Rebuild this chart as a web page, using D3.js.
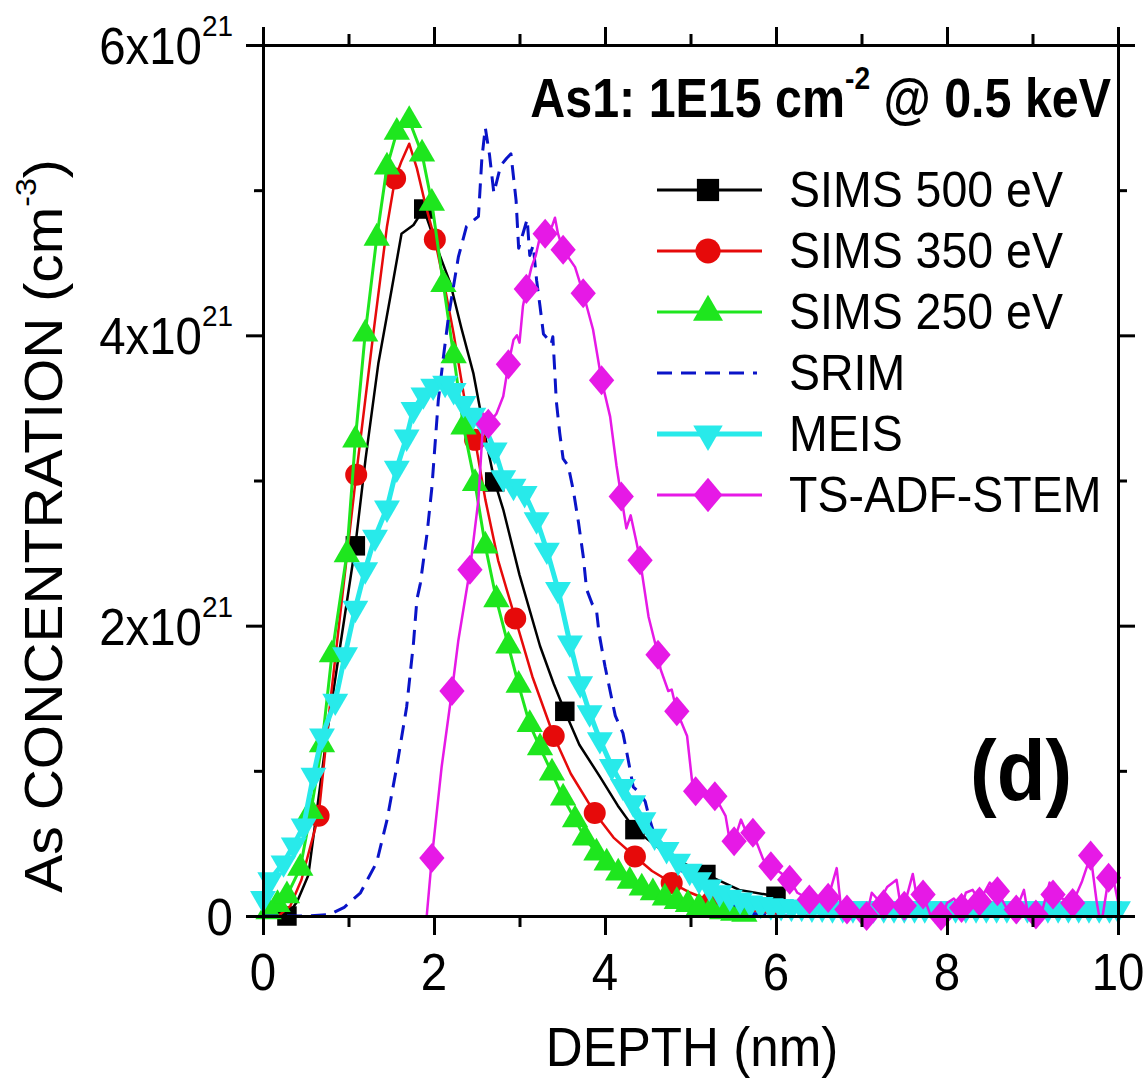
<!DOCTYPE html>
<html>
<head>
<meta charset="utf-8">
<script src="https://cdn.jsdelivr.net/npm/d3@7"></script>
<style>
  body { margin: 0; background: #fff; }
  text { font-family: "Liberation Sans", Arial, sans-serif; fill: #000; }
</style>
</head>
<body>
<div id="chart"></div>
<script>
// axis ticks
const xMajor = [0, 2, 4, 6, 8, 10];
const xMinor = [1, 3, 5, 7, 9];
const yMajor = [0, 2, 4, 6];          // units of 1e21 cm^-3
const yMinor = [1, 3, 5];
const yTickText = ["0", "2x10", "4x10", "6x10"];
const yTickExp = ["", "21", "21", "21"];

const legendNames = ["SIMS 500 eV", "SIMS 350 eV", "SIMS 250 eV", "SRIM", "MEIS", "TS-ADF-STEM"];

// SIMS 500 eV (depth nm, conc 1e21)
const sims500Line = [[0.22,0],[0.28,0],[0.4,0.1],[0.53,0.28],[0.75,1.26],[0.9,1.85],[1.08,2.55],[1.2,3.15],[1.35,3.81],
  [1.5,4.3],[1.62,4.7],[1.76,4.76],[1.88,4.87],[1.95,4.75],[2.03,4.61],[2.19,4.36],[2.32,4.05],[2.46,3.74],[2.6,3.3],
  [2.71,2.99],[2.81,2.8],[3.0,2.35],[3.24,1.86],[3.4,1.6],[3.53,1.41],[3.7,1.18],[3.94,0.96],[4.15,0.76],[4.35,0.595],
  [4.76,0.41],[5.18,0.286],[5.57,0.18],[6.0,0.136]];
const sims500Marks = [[0.28,0],[1.08,2.55],[1.88,4.87],[2.71,2.99],[3.53,1.41],[4.35,0.595],[5.18,0.286],[6.0,0.136]];

// SIMS 350 eV
const sims350Line = [[0.18,0],[0.32,0.07],[0.45,0.25],[0.65,0.69],[0.79,1.49],[0.95,2.32],[1.09,3.04],[1.29,4.01],
  [1.45,4.75],[1.545,5.08],[1.62,5.2],[1.71,5.32],[1.8,5.15],[1.9,4.9],[2.01,4.66],[2.12,4.35],[2.23,4.01],[2.36,3.55],
  [2.48,3.28],[2.6,2.87],[2.75,2.45],[2.95,2.05],[3.15,1.65],[3.4,1.24],[3.6,0.98],[3.88,0.71],[4.1,0.54],[4.35,0.41],
  [4.55,0.31],[4.78,0.228],[5.0,0.16],[5.25,0.1],[5.5,0.06],[5.8,0.03],[6.1,0.01]];
const sims350Marks = [[0.65,0.69],[1.09,3.04],[1.545,5.08],[2.01,4.66],[2.48,3.28],[2.95,2.05],[3.4,1.24],[3.88,0.71],
  [4.35,0.41],[4.78,0.228],[5.25,0.1]];

// SIMS 250 eV (line and markers)
const sims250Pts = [[0.065,0.03],[0.17,0.08],[0.28,0.14],[0.436,0.33],[0.56,0.72],[0.69,1.18],[0.806,1.8],[0.98,2.49],
  [1.08,3.28],[1.195,4.01],[1.33,4.67],[1.45,5.16],[1.565,5.4],[1.71,5.48],[1.86,5.25],[1.975,4.91],[2.11,4.35],
  [2.23,3.86],[2.345,3.37],[2.48,2.98],[2.6,2.55],[2.73,2.18],[2.87,1.86],[2.99,1.59],[3.12,1.32],[3.24,1.16],
  [3.38,0.985],[3.51,0.814],[3.65,0.664],[3.765,0.538],[3.9,0.435],[4.02,0.366],[4.155,0.297],[4.29,0.24],[4.43,0.194],
  [4.56,0.16],[4.7,0.125],[4.84,0.1],[4.97,0.08],[5.1,0.06],[5.24,0.045],[5.37,0.03],[5.5,0.02],[5.63,0.012]];

// SRIM
const srimLine = [[0,0],[0.5,0],[0.78,0.01],[0.95,0.06],[1.14,0.16],[1.33,0.37],[1.45,0.66],[1.565,1.03],[1.68,1.44],
  [1.76,1.88],[1.8,2.18],[1.84,2.29],[1.92,2.64],[1.975,2.95],[2.05,3.55],[2.11,3.85],[2.17,4.13],[2.285,4.54],
  [2.38,4.75],[2.52,4.82],[2.56,5.22],[2.6,5.43],[2.65,5.24],[2.7,4.98],[2.78,5.17],[2.85,5.22],[2.9,5.25],[2.96,4.93],
  [2.99,4.6],[3.04,4.7],[3.09,4.8],[3.12,4.55],[3.16,4.62],[3.2,4.38],[3.24,4.2],[3.28,4.01],[3.34,3.97],[3.37,3.94],
  [3.39,3.99],[3.41,3.78],[3.43,3.55],[3.47,3.33],[3.51,3.15],[3.57,3.1],[3.63,2.93],[3.69,2.71],[3.745,2.48],
  [3.785,2.25],[3.85,2.15],[3.9,2.11],[3.93,1.95],[4.0,1.72],[4.12,1.38],[4.21,1.26],[4.27,1.08],[4.33,0.89],
  [4.4,0.85],[4.47,0.79],[4.525,0.66],[4.6,0.52],[4.76,0.39],[5.0,0.25],[5.33,0.136],[5.69,0.02],[6.0,0],[10,0]];

// MEIS (line and markers)
const meisPts = [[0,0.12],[0.085,0.25],[0.24,0.366],[0.36,0.49],[0.475,0.62],[0.59,0.97],[0.69,1.24],[0.845,1.48],
  [0.96,1.8],[1.08,2.12],[1.195,2.385],[1.31,2.61],[1.45,2.81],[1.565,3.085],[1.68,3.3],[1.76,3.49],[1.876,3.59],
  [1.99,3.65],[2.13,3.67],[2.23,3.62],[2.345,3.53],[2.46,3.45],[2.57,3.4],[2.71,3.21],[2.81,3.02],[2.93,2.96],
  [3.06,2.91],[3.2,2.73],[3.32,2.52],[3.45,2.25],[3.59,1.88],[3.71,1.6],[3.82,1.4],[3.94,1.215],[4.08,1.03],
  [4.21,0.893],[4.33,0.78],[4.45,0.664],[4.58,0.55],[4.72,0.458],[4.855,0.377],[4.99,0.308],[5.1,0.25],[5.22,0.2],
  [5.34,0.16],[5.46,0.13],[5.58,0.11],[5.7,0.09],[5.82,0.08],[5.94,0.07],[6.06,0.065],[6.18,0.06],[6.3,0.06],
  [6.42,0.055],[6.54,0.055],[6.66,0.05],[6.78,0.05],[6.9,0.05],[7.02,0.05],[7.14,0.05],[7.26,0.05],[7.38,0.05],
  [7.5,0.05],[7.62,0.05],[7.74,0.05],[7.86,0.05],[7.98,0.05],[8.1,0.05],[8.22,0.05],[8.34,0.05],[8.46,0.05],
  [8.58,0.05],[8.7,0.05],[8.82,0.05],[8.94,0.05],[9.06,0.05],[9.18,0.05],[9.3,0.05],[9.42,0.05],[9.54,0.05],
  [9.66,0.05],[9.78,0.05],[9.9,0.05],[10,0.05]];

// TS-ADF-STEM
const stemLine = [[1.915,0],[1.975,0.4],[2.09,1.03],[2.21,1.55],[2.285,1.9],[2.42,2.385],[2.52,2.87],[2.58,3.46],
  [2.635,3.39],[2.73,3.46],[2.81,3.58],[2.87,3.8],[2.93,3.97],[2.97,4.0],[3.0,3.95],[3.04,4.2],[3.08,4.32],[3.14,4.47],
  [3.19,4.55],[3.24,4.68],[3.3,4.7],[3.38,4.75],[3.415,4.81],[3.45,4.7],[3.51,4.59],[3.65,4.47],[3.745,4.29],
  [3.86,4.04],[3.96,3.69],[4.06,3.44],[4.135,3.1],[4.19,2.89],[4.25,2.67],[4.3,2.76],[4.37,2.57],[4.41,2.45],
  [4.51,2.06],[4.62,1.8],[4.65,1.7],[4.74,1.55],[4.78,1.56],[4.84,1.41],[4.96,1.24],[5.02,0.92],[5.06,0.86],
  [5.15,0.87],[5.285,0.825],[5.41,0.69],[5.45,0.55],[5.51,0.515],[5.59,0.664],[5.65,0.58],[5.73,0.573],[5.85,0.39],
  [5.94,0.343],[6.05,0.3],[6.16,0.25],[6.25,0.16],[6.39,0.114],[6.5,0.11],[6.61,0.125],[6.71,0.33],[6.76,0.06],
  [6.83,0.045],[6.95,0],[7.06,0],[7.12,0.16],[7.21,0.1],[7.3,0.2],[7.41,0.25],[7.45,0.1],[7.5,0.07],[7.6,0.29],
  [7.65,0.12],[7.72,0.148],[7.81,0],[7.95,0],[8.0,0.09],[8.08,0.12],[8.17,0.056],[8.22,0.16],[8.3,0.18],[8.38,0.1],
  [8.5,0.23],[8.59,0.17],[8.7,0.05],[8.81,0.045],[8.9,0.18],[8.95,0],[9.04,0.01],[9.12,0.05],[9.2,0.23],[9.24,0.148],
  [9.35,0.12],[9.47,0.09],[9.58,0.24],[9.68,0.416],[9.75,0.1],[9.78,0],[9.82,0],[9.89,0.263],[9.93,0.3],[10,0.1]];
const stemMarks = [[1.975,0.4],[2.21,1.55],[2.42,2.385],[2.635,3.39],[2.87,3.8],[3.08,4.32],[3.3,4.7],[3.51,4.59],
  [3.745,4.29],[3.96,3.69],[4.19,2.89],[4.41,2.45],[4.62,1.8],[4.84,1.41],[5.06,0.86],[5.285,0.825],[5.51,0.515],
  [5.73,0.573],[5.94,0.343],[6.16,0.25],[6.39,0.114],[6.61,0.125],[6.83,0.045],[7.06,0],[7.26,0.08],[7.5,0.07],
  [7.72,0.148],[7.93,0],[8.17,0.056],[8.38,0.1],[8.59,0.17],[8.81,0.045],[9.04,0.01],[9.24,0.148],[9.47,0.09],
  [9.68,0.416],[9.89,0.263]];

const W = 1147, H = 1088;
const squash = 0.93;   // text in the picture is a bit narrow
const svg = d3.select("#chart").append("svg").attr("width", W).attr("height", H);

const x = d3.scaleLinear().domain([0, 10]).range([263, 1118]);
const y = d3.scaleLinear().domain([0, 6]).range([916, 45]);

const diamond = {
  draw(ctx, size) {
    const w = Math.sqrt(size) * 0.8, h = Math.sqrt(size) * 0.95;
    ctx.moveTo(0, -h); ctx.lineTo(w, 0); ctx.lineTo(0, h); ctx.lineTo(-w, 0); ctx.closePath();
  }
};

const series = [
  { line: sims500Line, marks: sims500Marks, color: "#000000", width: 2.5, sym: d3.symbolSquare, size: 380 },
  { line: sims350Line, marks: sims350Marks, color: "#e60a0a", width: 2.5, sym: d3.symbolCircle, size: 380 },
  { line: sims250Pts, marks: sims250Pts, color: "#1ee61e", width: 3, sym: d3.symbolTriangle, size: 300 },
  { line: srimLine, marks: [], color: "#0a14c8", width: 3, dash: "15,9" },
  { line: meisPts, marks: meisPts, color: "#28eaea", width: 5, sym: d3.symbolTriangle, size: 290, flip: true },
  { line: stemLine, marks: stemMarks, color: "#e619e6", width: 2.5, sym: diamond, size: 250 }
];

const lineGen = d3.line().x(d => x(d[0])).y(d => y(d[1]));
const plot = svg.append("g");

series.forEach(s => {
  const g = plot.append("g");
  g.append("path").datum(s.line)
    .attr("d", lineGen)
    .attr("fill", "none")
    .attr("stroke", s.color)
    .attr("stroke-width", s.width)
    .attr("stroke-linejoin", "round")
    .attr("stroke-dasharray", s.dash || null);
  if (s.sym) {
    g.selectAll("path.m").data(s.marks).enter().append("path")
      .attr("class", "m")
      .attr("d", d3.symbol().type(s.sym).size(s.size))
      .attr("transform", d => `translate(${x(d[0])},${y(d[1])})` + (s.flip ? " rotate(180)" : ""))
      .attr("fill", s.color);
  }
});

// axes
function styleAxis(g) {
  g.select(".domain").attr("stroke-width", 3).attr("stroke-linecap", "square");
  g.selectAll(".tick line").attr("stroke-width", 3);
}
const axB = svg.append("g").attr("transform", `translate(0,${y(0)})`);
axB.append("g").call(d3.axisBottom(x).tickValues(xMajor).tickSize(19).tickSizeOuter(0).tickFormat("")).call(styleAxis);
axB.append("g").call(d3.axisBottom(x).tickValues(xMinor).tickSize(11).tickSizeOuter(0).tickFormat("")).call(styleAxis);
const axT = svg.append("g").attr("transform", `translate(0,${y(6)})`);
axT.append("g").call(d3.axisTop(x).tickValues(xMajor).tickSize(18).tickSizeOuter(0).tickFormat("")).call(styleAxis);
axT.append("g").call(d3.axisTop(x).tickValues(xMinor).tickSize(11).tickSizeOuter(0).tickFormat("")).call(styleAxis);
const axL = svg.append("g").attr("transform", `translate(${x(0)},0)`);
axL.append("g").call(d3.axisLeft(y).tickValues(yMajor).tickSize(17).tickSizeOuter(0).tickFormat("")).call(styleAxis);
axL.append("g").call(d3.axisLeft(y).tickValues(yMinor).tickSize(9).tickSizeOuter(0).tickFormat("")).call(styleAxis);
const axR = svg.append("g").attr("transform", `translate(${x(10)},0)`);
axR.append("g").call(d3.axisRight(y).tickValues(yMajor).tickSize(17).tickSizeOuter(0).tickFormat("")).call(styleAxis);
axR.append("g").call(d3.axisRight(y).tickValues(yMinor).tickSize(9).tickSizeOuter(0).tickFormat("")).call(styleAxis);

// tick labels
svg.append("g").selectAll("text").data(xMajor).enter().append("text")
  .attr("transform", d => `translate(${x(d)},990) scale(${squash},1)`)
  .attr("text-anchor", "middle")
  .attr("font-size", 51)
  .text(d => d);

const yl = svg.append("g").selectAll("text").data(yMajor).enter().append("text")
  .attr("transform", d => `translate(233,${y(d) + 19}) scale(${squash},1)`)
  .attr("text-anchor", "end")
  .attr("font-size", 51);
yl.append("tspan").text((d, i) => yTickText[i]);
yl.append("tspan").attr("dy", -28).attr("font-size", 30).text((d, i) => yTickExp[i]);

// axis titles
svg.append("text")
  .attr("transform", `translate(692,1066) scale(${squash},1)`)
  .attr("text-anchor", "middle")
  .attr("font-size", 55)
  .text("DEPTH (nm)");

const yt = svg.append("text")
  .attr("transform", `translate(62,526) scale(${squash},1) rotate(-90)`)
  .attr("text-anchor", "middle")
  .attr("font-size", 57);
yt.append("tspan").text("As CONCENTRATION (cm");
yt.append("tspan").attr("dy", -28).attr("font-size", 32).text("-3");
yt.append("tspan").attr("dy", 28).text(")");

// annotation
const an = svg.append("text")
  .attr("transform", `translate(1111,117) scale(0.88,1)`)
  .attr("text-anchor", "end")
  .attr("font-size", 55)
  .attr("font-weight", "bold");
an.append("tspan").text("As1: 1E15 cm");
an.append("tspan").attr("dy", -28).attr("font-size", 32).text("-2");
an.append("tspan").attr("dy", 28).text(" @ 0.5 keV");

svg.append("text")
  .attr("transform", `translate(970,800) scale(${squash},1)`)
  .attr("font-size", 86)
  .attr("font-weight", "bold")
  .text("(d)");

// legend
const leg = svg.append("g");
series.forEach((s, i) => {
  const ly = 190 + i * 61;
  leg.append("line")
    .attr("x1", 657).attr("x2", s.dash ? 757 : 762)
    .attr("y1", ly).attr("y2", ly)
    .attr("stroke", s.color)
    .attr("stroke-width", s.dash ? 3 : Math.max(3, s.width))
    .attr("stroke-dasharray", s.dash || null);
  if (s.sym) {
    leg.append("path")
      .attr("d", d3.symbol().type(s.sym).size(s.size * 1.3))
      .attr("transform", `translate(708,${ly})` + (s.flip ? " rotate(180)" : ""))
      .attr("fill", s.color);
  }
  leg.append("text")
    .attr("transform", `translate(789,${ly + 17}) scale(${squash},1)`)
    .attr("font-size", 50)
    .text(legendNames[i]);
});
</script>
</body>
</html>
